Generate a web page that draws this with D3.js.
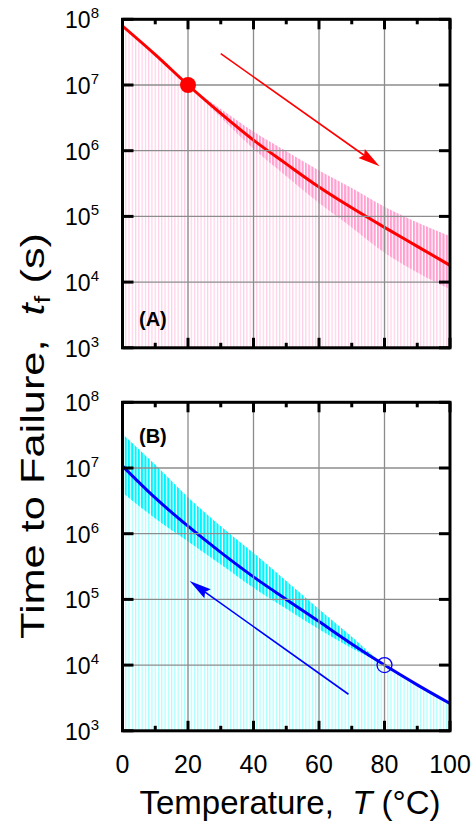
<!DOCTYPE html>
<html>
<head>
<meta charset="utf-8">
<script src="https://cdn.jsdelivr.net/npm/d3@7"></script>
<style>
  body { margin: 0; background: #fff; }
  svg { display: block; font-family: "Liberation Sans", Arial, sans-serif; }
</style>
</head>
<body>
<div id="chart"></div>
<script>
// temperatures (°C) at which the curves were read
const temps = [0, 10, 20, 30, 40, 50, 60, 70, 80, 90, 100];

// panel A: time to failure (s), reference point at 20 °C
const tfA = [7.9e7, 2.9e7, 1.0e7, 3.7e6, 1.45e6, 6.3e5, 2.8e5, 1.35e5, 6.8e4, 3.5e4, 1.8e4];
const upperA = [7.9e7, 2.9e7, 1.0e7, 4.3e6, 1.95e6, 9.8e5, 5.0e5, 2.7e5, 1.4e5, 8.1e4, 5.0e4];
const lowerA = [7.9e7, 2.9e7, 1.0e7, 3.2e6, 1.07e6, 4.1e5, 1.6e5, 6.8e4, 2.8e4, 1.4e4, 7.8e3];

// panel B: time to failure (s), reference point at 80 °C
const tfB = [1.07e7, 3.5e6, 1.3e6, 5.2e5, 2.2e5, 1.0e5, 4.6e4, 2.1e4, 1.0e4, 5.0e3, 2.6e3];
const upperB = [3.3e7, 1.12e7, 3.6e6, 1.3e6, 5.1e5, 1.9e5, 7.1e4, 2.7e4, 1.0e4, 5.0e3, 2.6e3];
const lowerB = [4.2e6, 1.7e6, 7.6e5, 3.4e5, 1.5e5, 7.2e4, 3.5e4, 1.8e4, 1.0e4, 5.0e3, 2.6e3];

const refA = [20, 1e7];
const refB = [80, 1e4];
const arrowA = [[30, 3.0e7], [78.5, 5.8e5]];
const arrowB = [[69, 3.6e3], [20.5, 1.9e5]];

const xTicks = [0, 20, 40, 60, 80, 100];
const xMinor = [10, 30, 50, 70, 90];
const yTicks = [1e3, 1e4, 1e5, 1e6, 1e7, 1e8];

const W = 476, H = 825;
const left = 122.5, plotW = 327.5, plotH = 328.5;

const svg = d3.select('#chart').append('svg')
  .attr('width', W)
  .attr('height', H);

const x = d3.scaleLinear().domain([0, 100]).range([left, left + plotW]);
const step = x(1) - x(0);

const defs = svg.append('defs');
function stripes(id, color, w) {
  const p = defs.append('pattern')
    .attr('id', id)
    .attr('patternUnits', 'userSpaceOnUse')
    .attr('x', x(0) - w / 2)
    .attr('y', 0)
    .attr('width', step)
    .attr('height', 10);
  p.append('rect').attr('width', w).attr('height', 10).attr('fill', color);
}
stripes('pinkLight', '#ffcfe7', 1.2);
stripes('pinkDark', '#ffa0d0', 2.1);
stripes('cyanLight', '#a6ffff', 1.2);
stripes('cyanDark', '#00f5ff', 2.1);

function panel(top, opt) {
  const y = d3.scaleLog().domain([1e3, 1e8]).range([top + plotH, top]);
  const g = svg.append('g');

  defs.append('clipPath').attr('id', 'clip' + opt.name)
    .append('rect')
    .attr('x', left).attr('y', top)
    .attr('width', plotW).attr('height', plotH);

  const pts = (vals) => temps.map((t, i) => [t, vals[i]]);
  const body = g.append('g').attr('clip-path', `url(#clip${opt.name})`);

  // drop stripes down to the axis
  body.append('path')
    .datum(pts(opt.upper))
    .attr('fill', `url(#${opt.light})`)
    .attr('d', d3.area()
      .curve(d3.curveMonotoneX)
      .x(d => x(d[0]))
      .y0(top + plotH)
      .y1(d => y(d[1])));

  // uncertainty band
  body.append('path')
    .datum(temps.map((t, i) => [t, opt.lower[i], opt.upper[i]]))
    .attr('fill', `url(#${opt.dark})`)
    .attr('d', d3.area()
      .curve(d3.curveMonotoneX)
      .x(d => x(d[0]))
      .y0(d => y(d[1]))
      .y1(d => y(d[2])));

  // grid
  g.append('g').selectAll('line').data(xTicks.slice(1, -1)).join('line')
    .attr('x1', d => x(d)).attr('x2', d => x(d))
    .attr('y1', top).attr('y2', top + plotH)
    .attr('stroke', '#8c8c8c').attr('stroke-width', 1.3);
  g.append('g').selectAll('line').data(yTicks.slice(1, -1)).join('line')
    .attr('x1', left).attr('x2', left + plotW)
    .attr('y1', d => y(d)).attr('y2', d => y(d))
    .attr('stroke', '#8c8c8c').attr('stroke-width', 1.3);

  // main curve
  body.append('path')
    .datum(pts(opt.tf))
    .attr('fill', 'none')
    .attr('stroke', opt.color)
    .attr('stroke-width', 3)
    .attr('d', d3.line().curve(d3.curveMonotoneX).x(d => x(d[0])).y(d => y(d[1])));

  // arrow
  const [a0, a1] = opt.arrow;
  const p0 = [x(a0[0]), y(a0[1])], p1 = [x(a1[0]), y(a1[1])];
  const ang = Math.atan2(p1[1] - p0[1], p1[0] - p0[0]);
  const hl = 19, hw = 5.5;
  const back = [p1[0] - hl * Math.cos(ang), p1[1] - hl * Math.sin(ang)];
  g.append('line')
    .attr('x1', p0[0]).attr('y1', p0[1])
    .attr('x2', back[0]).attr('y2', back[1])
    .attr('stroke', opt.color).attr('stroke-width', 1.6);
  g.append('path')
    .attr('fill', opt.color)
    .attr('d', `M${p1[0]},${p1[1]}` +
      `L${back[0] - hw * Math.sin(ang) - 3 * Math.cos(ang)},${back[1] + hw * Math.cos(ang) - 3 * Math.sin(ang)}` +
      `L${back[0]},${back[1]}` +
      `L${back[0] + hw * Math.sin(ang) - 3 * Math.cos(ang)},${back[1] - hw * Math.cos(ang) - 3 * Math.sin(ang)}Z`);

  // reference marker
  const m = g.append('circle')
    .attr('cx', x(opt.ref[0])).attr('cy', y(opt.ref[1]));
  if (opt.filled) {
    m.attr('r', 8).attr('fill', opt.color);
  } else {
    m.attr('r', 7.5).attr('fill', 'none').attr('stroke', opt.color).attr('stroke-width', 1.3);
  }

  // frame and ticks
  const ax = g.append('g').attr('stroke', '#000').attr('stroke-width', 3);
  ax.append('rect')
    .attr('x', left).attr('y', top)
    .attr('width', plotW).attr('height', plotH)
    .attr('fill', 'none');
  [[xTicks, 10], [xMinor, 5]].forEach(([ticks, len]) => {
    ax.selectAll(null).data(ticks).join('line')
      .attr('x1', d => x(d)).attr('x2', d => x(d))
      .attr('y1', top + plotH).attr('y2', top + plotH - len);
    ax.selectAll(null).data(ticks).join('line')
      .attr('x1', d => x(d)).attr('x2', d => x(d))
      .attr('y1', top).attr('y2', top + len);
  });
  ax.selectAll(null).data(yTicks).join('line')
    .attr('x1', left).attr('x2', left + 11)
    .attr('y1', d => y(d)).attr('y2', d => y(d));
  ax.selectAll(null).data(yTicks).join('line')
    .attr('x1', left + plotW - 11).attr('x2', left + plotW)
    .attr('y1', d => y(d)).attr('y2', d => y(d));

  // y tick labels
  const yl = g.append('g').selectAll('text').data(yTicks).join('text')
    .attr('x', 99)
    .attr('y', d => y(d) + 9)
    .attr('text-anchor', 'end')
    .attr('font-size', 23);
  yl.append('tspan').text('10');
  yl.append('tspan')
    .attr('font-size', 15)
    .attr('dy', -10)
    .text(d => Math.round(Math.log10(d)));

  // panel label
  g.append('text')
    .attr('x', 139)
    .attr('y', top + opt.labelY)
    .attr('font-size', 20)
    .attr('font-weight', 'bold')
    .text(opt.label);

  return y;
}

panel(19.3, {
  name: 'A', tf: tfA, upper: upperA, lower: lowerA,
  color: '#ff0000', light: 'pinkLight', dark: 'pinkDark',
  arrow: arrowA, ref: refA, filled: true, label: '(A)', labelY: 307
});
panel(402.3, {
  name: 'B', tf: tfB, upper: upperB, lower: lowerB,
  color: '#0000ff', light: 'cyanLight', dark: 'cyanDark',
  arrow: arrowB, ref: refB, filled: false, label: '(B)', labelY: 41
});

// x tick labels under panel B
svg.append('g').selectAll('text').data(xTicks).join('text')
  .attr('x', d => x(d))
  .attr('y', 773)
  .attr('text-anchor', 'middle')
  .attr('font-size', 25)
  .text(d => d);

// axis titles
const xt = svg.append('text')
  .attr('x', 290)
  .attr('y', 814)
  .attr('text-anchor', 'middle')
  .attr('font-size', 33);
xt.append('tspan').text('Temperature,\u00a0 ');
xt.append('tspan').attr('font-style', 'italic').text('T');
xt.append('tspan').text(' (°C)');

const yt = svg.append('text')
  .attr('transform', 'translate(44,436) rotate(-90)')
  .attr('text-anchor', 'middle')
  .attr('font-size', 34)
  .attr('textLength', 406)
  .attr('lengthAdjust', 'spacingAndGlyphs');
yt.append('tspan').text('Time to Failure,\u00a0 ');
yt.append('tspan').attr('font-style', 'italic').text('t');
yt.append('tspan').attr('font-size', 22).attr('dy', 6).text('f');
yt.append('tspan').attr('dy', -6).text(' (s)');
</script>
</body>
</html>
